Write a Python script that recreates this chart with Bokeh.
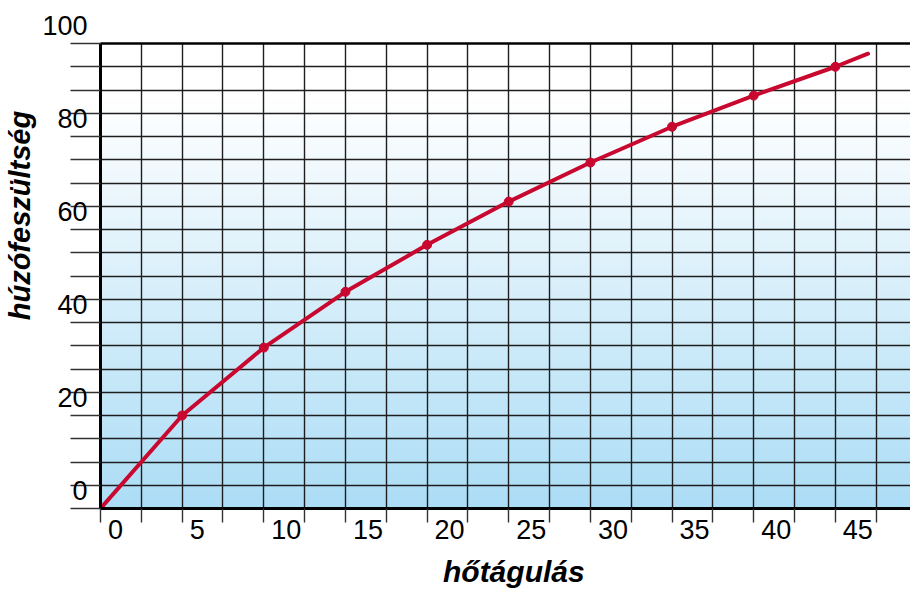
import numpy as np
from bokeh.plotting import figure
from bokeh.models import FixedTicker, Range1d, LinearAxis
from bokeh.embed import file_html
from bokeh.resources import INLINE

# ---- data ----
x_vals = [0, 5, 10, 15, 20, 25, 30, 35, 40, 45]
y_vals = [0, 20.0, 34.6, 46.6, 56.7, 66.0, 74.4, 82.1, 88.8, 95.0]
curve_end_x = [47.0]
curve_end_y = [97.8]
x_tick_labels = ["0", "5", "10", "15", "20", "25", "30", "35", "40", "45"]
y_tick_vals = [0, 20, 40, 60, 80, 100]
y_tick_labels = ["0", "20", "40", "60", "80", "100"]
x_title = "hőtágulás"
y_title = "húzófeszültség"

W, H = 910, 592
X_END = 810 / 16.33
NB = "\u00a0"

p = figure(width=W, height=H, output_backend="svg", toolbar_location=None,
           x_range=Range1d(0, X_END), y_range=Range1d(0, 100),
           min_border_left=100, min_border_right=0, min_border_top=43, min_border_bottom=84)
p.outline_line_color = None
p.background_fill_color = "white"
p.border_fill_color = "white"

# gradient background
n = 400
ys = np.linspace(0, 1, n)
top = np.array([255, 255, 255])
bot = np.array([172, 221, 246])
t = np.clip((0.88 - ys) / 0.88, 0, 1)
cols = (bot[None, :] * t[:, None] + top[None, :] * (1 - t[:, None])).astype(np.uint32)
img = np.zeros((n, 1), dtype=np.uint32)
view = img.view(dtype=np.uint8).reshape((n, 1, 4))
view[:, 0, 0] = cols[:, 0]
view[:, 0, 1] = cols[:, 1]
view[:, 0, 2] = cols[:, 2]
view[:, 0, 3] = 255
p.image_rgba(image=[img], x=0, y=0, dw=X_END, dh=100, level="image")

x_grid_ticks = [float(v) for v in np.arange(0, 50, 2.5)]
y_grid_ticks = list(range(0, 101, 5))

# grid
p.xgrid.ticker = FixedTicker(ticks=x_grid_ticks)
p.ygrid.ticker = FixedTicker(ticks=y_grid_ticks)
for g in (p.xgrid, p.ygrid):
    g.grid_line_color = "#1e1e1e"
    g.grid_line_width = 1.4
    g.level = "underlay"

# axes
p.xaxis.ticker = FixedTicker(ticks=x_grid_ticks)
p.yaxis.ticker = FixedTicker(ticks=y_grid_ticks)
x_over = {t_: "" for t_ in x_grid_ticks}
for v, lab in zip(x_vals, x_tick_labels):
    x_over[float(v)] = NB * (2 * len(lab) + 2) + lab
y_over = {t_: "" for t_ in y_grid_ticks}
for v, lab in zip(y_tick_vals, y_tick_labels):
    y_over[v] = lab + "\n"
p.xaxis.major_label_overrides = x_over
p.yaxis.major_label_overrides = y_over

for ax in (p.xaxis, p.yaxis):
    ax.major_label_text_font = "Liberation Sans"
    ax.major_label_text_font_size = "27px"
    ax.major_label_text_color = "black"
    ax.minor_tick_line_color = None
    ax.major_tick_in = 0
    ax.major_tick_line_color = "#333333"
    ax.major_tick_line_width = 1.4
    ax.axis_line_color = "black"
    ax.axis_line_width = 3
    ax.axis_label_text_font = "Liberation Sans"
    ax.axis_label_text_font_style = "bold italic"
    ax.axis_label_text_color = "black"
p.xaxis.axis_label_text_font_size = "30px"
p.yaxis.axis_label_text_font_size = "29px"
p.xaxis.major_tick_out = 14
p.yaxis.major_tick_out = 30
p.xaxis.major_label_standoff = -8
p.yaxis.major_label_standoff = -17
p.xaxis.axis_label = NB * 2 + x_title
p.yaxis.axis_label = NB * 15 + y_title
p.xaxis.axis_label_standoff = 7
p.yaxis.axis_label_standoff = 3

# top border
top_ax = LinearAxis(ticker=FixedTicker(ticks=[]), axis_line_color="black", axis_line_width=2.5,
                    major_tick_line_color=None, minor_tick_line_color=None,
                    major_label_text_font_size="0px")
p.add_layout(top_ax, "above")

# curve
red = "#c8082f"
p.line(x_vals + curve_end_x, y_vals + curve_end_y, line_color=red, line_width=4,
       line_join="round", line_cap="round")
p.scatter(x_vals, y_vals, size=9, color=red)

open("out.html", "w").write(file_html(p, INLINE))
